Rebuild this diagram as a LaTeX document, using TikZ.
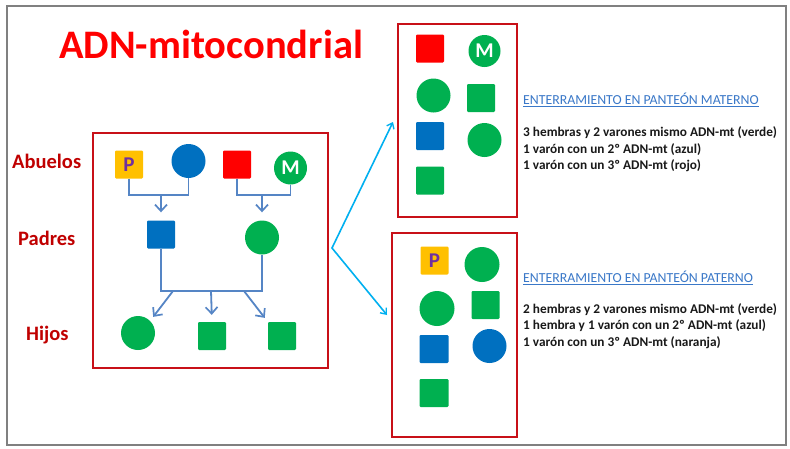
\documentclass[tikz,border=0pt]{standalone}
\usepackage{fontspec}
\setmainfont{Carlito}
\usetikzlibrary{arrows.meta}
\definecolor{tgreen}{HTML}{00B050}
\definecolor{tblue}{HTML}{0070C0}
\definecolor{tred}{HTML}{FF0000}
\definecolor{tyellow}{HTML}{FFC000}
\definecolor{tpurple}{HTML}{7030A0}
\definecolor{boxred}{RGB}{200,16,24}
\definecolor{lblred}{HTML}{C00000}
\definecolor{connblue}{HTML}{5585C5}
\definecolor{tcyan}{HTML}{00B0F0}
\definecolor{hdrblue}{HTML}{3A78C8}
\definecolor{frame}{HTML}{808080}
\tikzset{
  sq/.style={rectangle, minimum size=28pt, inner sep=0pt, rounded corners=1.2pt, fill=#1},
  ci/.style={circle, minimum size=34pt, inner sep=0pt, fill=#1},
  redbox/.style={draw=boxred, line width=2pt, rectangle, inner sep=0pt},
  conn/.style={draw=connblue, line width=1.8pt},
  carr/.style={conn, -{Straight Barb[length=6.5pt,width=12pt,line width=1.7pt]}},
  cy/.style={draw=tcyan, line width=1.6pt},
  rowlbl/.style={anchor=base west, text=lblred, font=\fontsize{20.5}{22}\selectfont\bfseries, inner sep=0pt},
  hdr/.style={anchor=west, text=hdrblue, font=\fontsize{13.8}{15}\selectfont, inner sep=0pt},
  body/.style={anchor=west, text=black!90, font=\fontsize{13.3}{16.5}\selectfont\bfseries, inner sep=0pt, align=left},
  letter/.style={font=\fontsize{21}{21}\selectfont\bfseries}
}
\begin{document}
\begin{tikzpicture}[x=1pt,y=-1pt]
\useasboundingbox (0,0) rectangle (790,448);
\fill[white] (0,0) rectangle (790,448);
\draw[frame, line width=1.5pt] (7,6) rectangle (786,445);

% title
\node[anchor=base west, inner sep=0pt, text=tred, font=\fontsize{40.5}{42}\selectfont\bfseries] (title) at (59,58) {ADN-mitocondrial};

% row labels
\node[rowlbl] (lab1) at (12,168) {Abuelos};
\node[rowlbl] (lab2) at (18,245) {Padres};
\node[rowlbl] (lab3) at (26,340) {Hijos};

% left box
\node[redbox, minimum width=235pt, minimum height=235pt] (LB) at (210.5,250.5) {};

% grandparents
\node[sq=tyellow, text=tpurple, letter] (P) at (129,164.5) {P};
\node[ci=tblue] (BC) at (188.5,161) {};
\node[sq=tred] (RS) at (237,164.5) {};
\node[ci=tgreen, minimum size=33pt, text=white, letter] (M) at (290.5,168) {M};

% parents
\node[sq=tblue] (F) at (161,234.5) {};
\node[ci=tgreen] (Mo) at (262,237.5) {};

% children
\node[ci=tgreen] (H1) at (138,333) {};
\node[sq=tgreen] (H2) at (212,336) {};
\node[sq=tgreen] (H3) at (282,336) {};

% connectors
\coordinate (j1) at (161,195);
\coordinate (j2) at (262,195);
\coordinate (j3) at (211,291);
\coordinate (a1) at (173,291);
\coordinate (a3) at (244,291);
\draw[conn] (P.south) |- (j1) -| (BC.south);
\draw[carr, shorten >=8pt] (j1) -- (F.north);
\draw[conn] (RS.south) |- (j2) -| (M.south);
\draw[carr, shorten >=8pt] (j2) -- (Mo.north);
\draw[conn] (F.south) |- (j3) -| (Mo.south);
\draw[carr, shorten >=5pt] (a1) -- (H1.north east);
\draw[carr, shorten >=7pt] (j3) -- (H2.north);
\draw[carr, shorten >=5pt] (a3) -- (H3.north west);

% right boxes
\node[redbox, minimum width=119pt, minimum height=193pt] (MB) at (457.5,120.5) {};
\node[redbox, minimum width=125pt, minimum height=204pt] (PB) at (454.5,335) {};

% cyan arrows
\coordinate (v) at (332,248);
\coordinate (t1) at (393,122);
\coordinate (t2) at (387,315);
\draw[cy, {Straight Barb[length=5pt,width=8pt,line width=1.4pt]}-{Straight Barb[length=5pt,width=8pt,line width=1.4pt]}] (t1) -- (v) -- (t2);

% materno contents
\node[sq=tred] (m1) at (430,48.5) {};
\node[ci=tgreen, minimum size=32pt, text=white, letter] (m2) at (484.5,51) {M};
\node[ci=tgreen] (m3) at (433.5,95.5) {};
\node[sq=tgreen] (m4) at (481,98) {};
\node[sq=tblue] (m5) at (430,136) {};
\node[ci=tgreen] (m6) at (484.5,140) {};
\node[sq=tgreen] (m7) at (430,180.5) {};

% paterno contents
\node[sq=tyellow, minimum size=28pt, text=tpurple, letter] (p1) at (434.5,260.5) {P};
\node[ci=tgreen, minimum size=35pt] (p2) at (482,264.5) {};
\node[ci=tgreen, minimum size=35pt] (p3) at (437,308.5) {};
\node[sq=tgreen] (p4) at (485.5,305) {};
\node[sq=tblue, minimum width=29pt] (p5) at (434,349) {};
\node[ci=tblue] (p6) at (489.5,346) {};
\node[sq=tgreen, minimum width=29pt] (p7) at (434,393) {};

% texts
\node[hdr] (h1) at (523,100) {\underline{ENTERRAMIENTO EN PANTEÓN MATERNO}};
\node[body] (b1) at (523,149.5) {3 hembras y 2 varones mismo ADN-mt (verde)\\1 varón con un 2º ADN-mt (azul)\\1 varón con un 3º ADN-mt (rojo)};
\node[hdr] (h2) at (523,278) {\underline{ENTERRAMIENTO EN PANTEÓN PATERNO}};
\node[body] (b2) at (523,326) {2 hembras y 2 varones mismo ADN-mt (verde)\\1 hembra y 1 varón con un 2º ADN-mt (azul)\\1 varón con un 3º ADN-mt (naranja)};
\end{tikzpicture}
\end{document}
